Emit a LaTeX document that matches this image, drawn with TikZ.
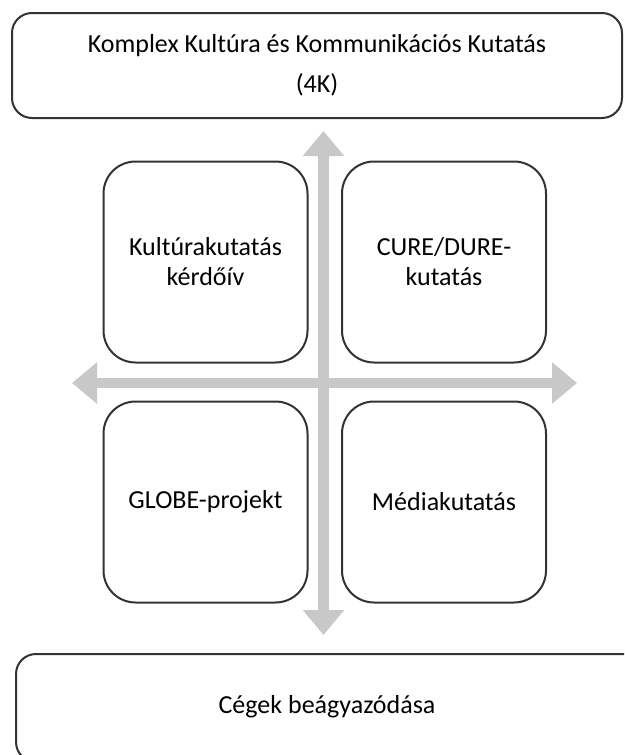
\documentclass[tikz,border=0pt]{standalone}
\usepackage{fontspec}
\setmainfont{Carlito}
\usetikzlibrary{arrows.meta}
\definecolor{arrowgray}{HTML}{C8C8C8}
\definecolor{boxline}{HTML}{333333}
\begin{document}
\begin{tikzpicture}[x=1pt,y=-1pt,
  outerbox/.style={draw=boxline,line width=2pt,fill=white,rounded corners=20pt,align=center,font=\fontsize{26}{40}\selectfont},
  innerbox/.style={draw=boxline,line width=2pt,fill=white,rounded corners=32pt,minimum width=204pt,minimum height=201pt,align=center,font=\fontsize{26}{30}\selectfont,inner sep=0pt},
  bigarrow/.style={draw=arrowgray,line width=10.5pt,{Triangle[width=40pt,length=25pt]}-{Triangle[width=40pt,length=25pt]}}]
\useasboundingbox (0,0) rectangle (624,755);
\clip (0,0) rectangle (624,755);
\fill[white] (0,0) rectangle (624,755);
% arrows
\coordinate (ltip) at (72,383);
\coordinate (rtip) at (577,383);
\coordinate (ttip) at (323.5,131);
\coordinate (btip) at (323.5,635);
\draw[bigarrow] (ltip) -- (rtip);
\draw[bigarrow] (ttip) -- (btip);
% outer boxes
\node[outerbox,minimum width=610pt,minimum height=105pt] (top) at (317,65.5) {Komplex Kultúra és Kommunikációs Kutatás\\(4K)};
\node[outerbox,minimum width=650pt,minimum height=108pt,anchor=west] (bottom) at (15,708) {};
\node[font=\fontsize{26}{30}\selectfont] (btext) at (327,707) {Cégek beágyazódása};
% inner boxes
\node[innerbox] (tl) at (205.5,262) {Kultúrakutatás\\kérdőív};
\node[innerbox] (tr) at (444,262) {CURE/DURE-\\kutatás};
\node[innerbox] (bl) at (205.5,502) {GLOBE-projekt};
\node[innerbox] (br) at (444,502) {Médiakutatás};
\end{tikzpicture}
\end{document}
